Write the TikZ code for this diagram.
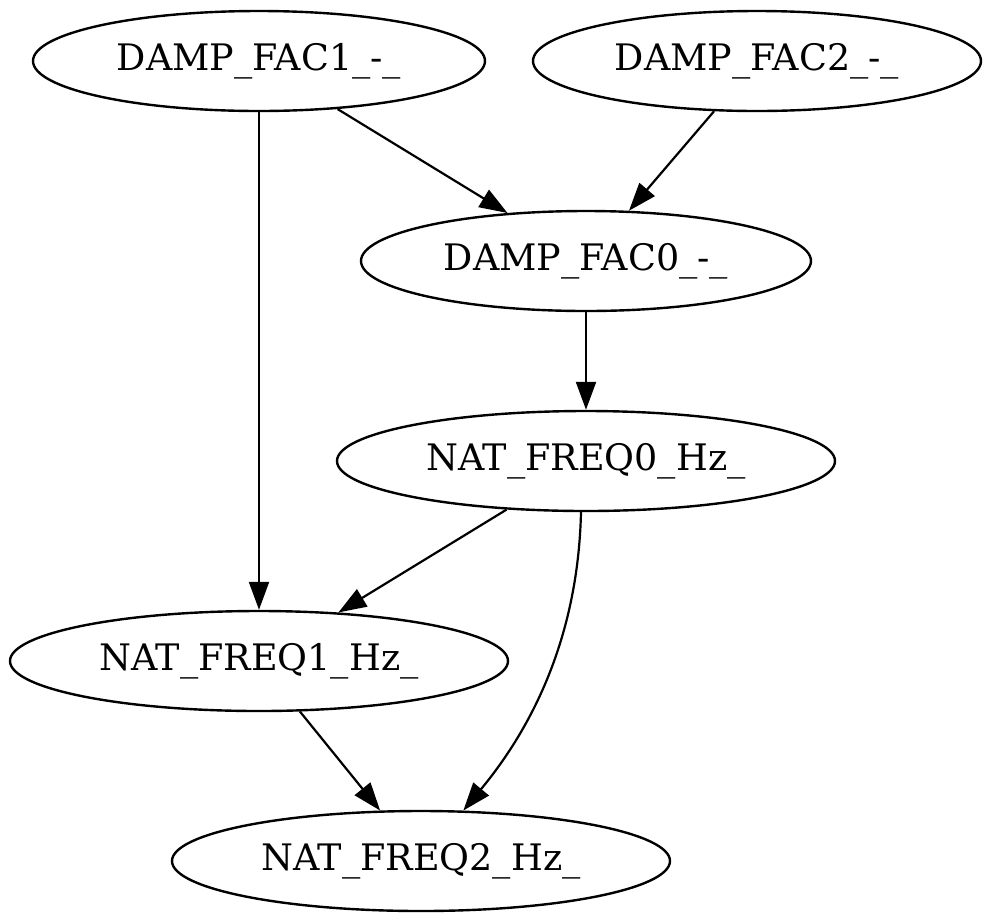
\documentclass[tikz,border=0pt]{standalone}
\usepackage{fontspec}
\setmainfont{DejaVu Serif}
\usetikzlibrary{shapes.geometric,arrows.meta}
\begin{document}
\begin{tikzpicture}[x=1pt,y=-1pt,
  gnode/.style={ellipse,draw,line width=2.4pt,inner sep=0pt,minimum height=100pt,font=\fontsize{36.5}{44}\selectfont},
  edge/.style={draw,line width=2.2pt,-{Triangle[length=28pt,width=20pt]}}]
\useasboundingbox (0,0) rectangle (991,922);
\node[gnode,minimum width=452pt] (f1) at (259,61) {DAMP\_FAC1\_-\_};
\node[gnode,minimum width=448pt] (f2) at (757,61) {DAMP\_FAC2\_-\_};
\node[gnode,minimum width=450pt] (f0) at (586,261) {DAMP\_FAC0\_-\_};
\node[gnode,minimum width=498pt] (n0) at (586,461) {NAT\_FREQ0\_Hz\_};
\node[gnode,minimum width=498pt] (n1) at (259,661) {NAT\_FREQ1\_Hz\_};
\node[gnode,minimum width=498pt] (n2) at (421,861) {NAT\_FREQ2\_Hz\_};
\draw[edge] (f1) -- (f0);
\draw[edge] (f2) -- (f0);
\draw[edge] (f1) -- (n1);
\draw[edge] (f0) -- (n0);
\draw[edge] (n0) -- (n1);
\draw[edge] (n1) -- (n2);
\draw[edge] ([xshift=-5pt]n0.south) .. controls (578,640) and (530,730) .. (n2.50);
\end{tikzpicture}
\end{document}
